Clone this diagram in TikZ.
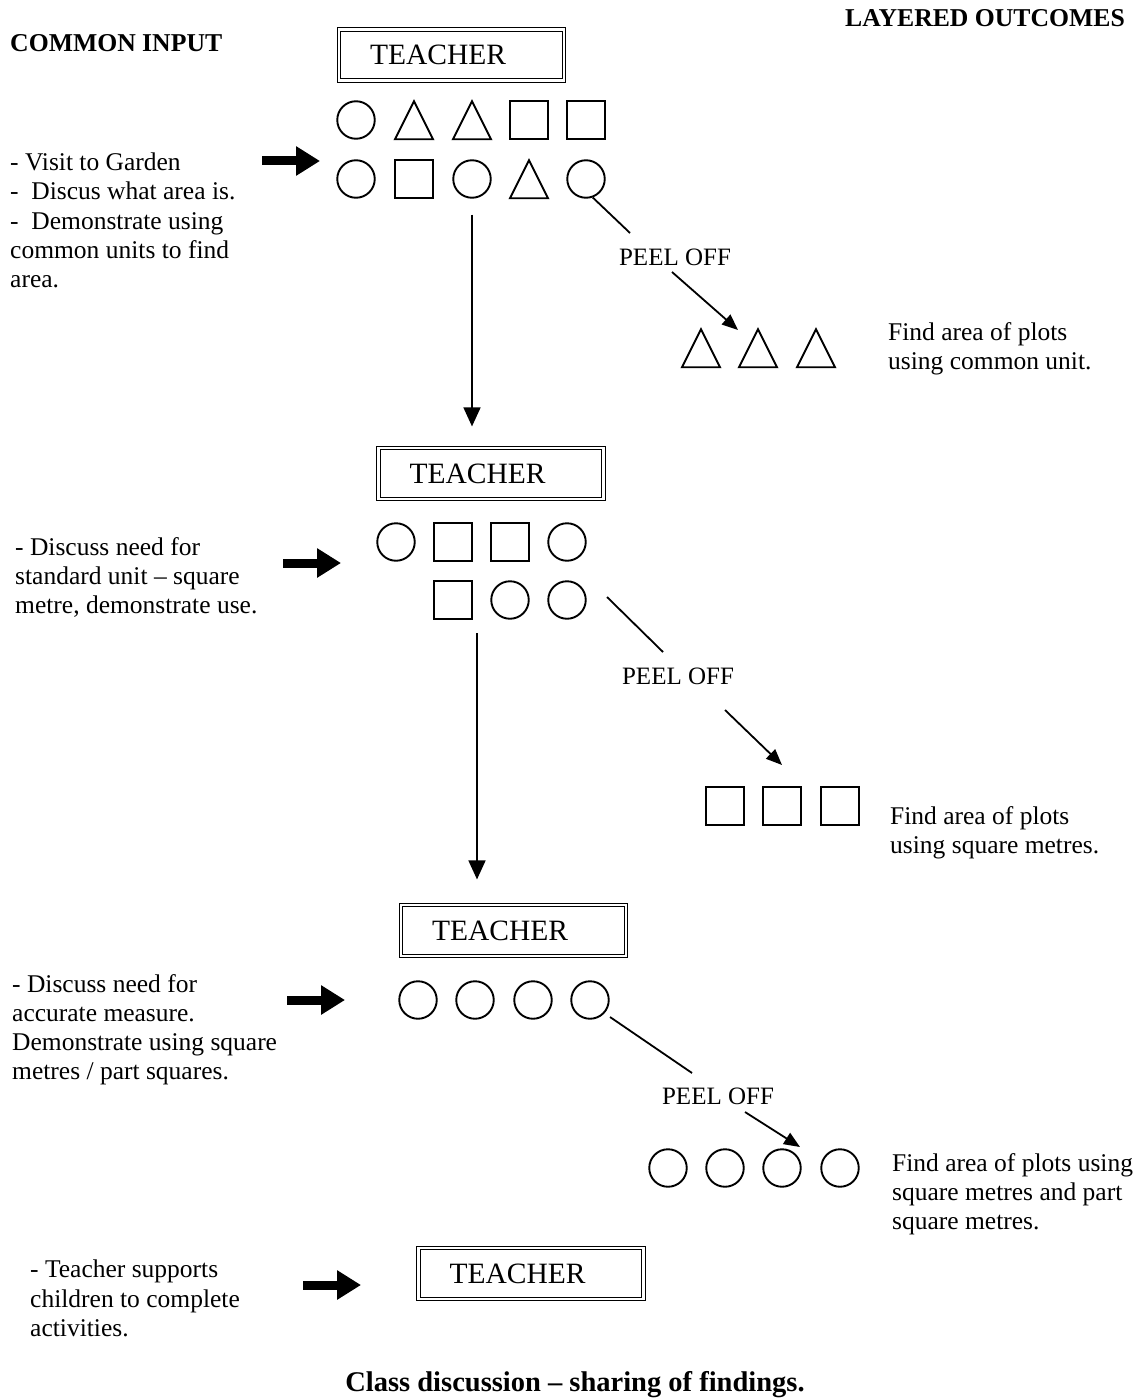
\documentclass[tikz,border=0pt]{standalone}
\usepackage{fontspec}
\setmainfont{Liberation Serif}
\usetikzlibrary{positioning,arrows.meta,shapes.geometric}

\tikzset{
  txt/.style={font=\fontsize{25.5}{29.1}\selectfont, align=left, inner sep=0pt, anchor=north west},
  hdr/.style={font=\bfseries\fontsize{25.7}{29}\selectfont, inner sep=0pt, anchor=west},
  peeltxt/.style={font=\fontsize{25}{29}\selectfont, inner sep=0pt},
  teacher/.style={draw, double, double distance=2.5pt, line width=1.2pt, minimum height=51pt,
    text width=163pt, inner xsep=31pt, align=left, font=\fontsize{29.5}{32}\selectfont},
  circ/.style={circle, draw, line width=1.9pt, minimum size=37.5pt, inner sep=0pt},
  sq/.style={rectangle, draw, line width=1.9pt, minimum size=37.5pt, inner sep=0pt},
  tri/.style={isosceles triangle, isosceles triangle stretches, shape border rotate=90, draw,
    line width=1.9pt, minimum width=38pt, minimum height=38pt, inner sep=0pt, yshift=-7.5pt},
  bigarrow/.style={line width=9pt, -{Triangle[length=24pt,width=28pt]}},
  peel/.style={line width=1.8pt},
  peelarrow/.style={line width=1.8pt, -{Triangle[length=16pt,width=13pt]}},
  down/.style={line width=1.6pt, -{Triangle[length=19pt,width=17pt]}}
}

\begin{document}
\begin{tikzpicture}[x=1pt,y=-1pt]
\useasboundingbox (0,0) rectangle (1138,1399);

% headings
\node[hdr] (ci) at (10,43) {COMMON INPUT};
\node[hdr] (lo) at (845,18) {LAYERED OUTCOMES};

% first group
\node[teacher] (t1) at (451.5,55) {TEACHER};
\node[circ] (a1) at (356,120) {};
\node[tri] (a2) at (414,120) {};
\node[tri] (a3) at (472,120) {};
\node[sq] (a4) at (529,120) {};
\node[sq] (a5) at (586,120) {};
\node[circ] (b1) at (356,179) {};
\node[sq] (b2) at (414,179) {};
\node[circ] (b3) at (472,179) {};
\node[tri] (b4) at (529,179) {};
\node[circ] (b5) at (586,179) {};

\node[txt] (in1) at (10,153) {- Visit to Garden\\- \ Discus what area is.\\- \ Demonstrate using\\common units to find\\area.};
\coordinate (in1a) at (262,161);
\coordinate (in1b) at (320,161);
\draw[bigarrow] (in1a) -- (in1b);

\coordinate (pl1a) at (630,233);
\draw[peel] (b5.-70) -- (pl1a);
\node[peeltxt] (peel1) at (675,257) {PEEL OFF};
\coordinate (pl1b) at (672,272);
\coordinate (pl1c) at (738,330);
\draw[peelarrow] (pl1b) -- (pl1c);

\node[tri] (o1) at (701,348) {};
\node[tri] (o2) at (758,348) {};
\node[tri] (o3) at (816,348) {};
\node[txt] (out1) at (888,322) {Find area of plots\\using common unit.};

% second group
\node[teacher] (t2) at (491,473.5) {TEACHER};
\draw[down, shorten <=16pt] (b3.south) -- ([yshift=21pt]b3.south |- t2.north);
\node[circ] (c1) at (396,542) {};
\node[sq] (c2) at (453,542) {};
\node[sq] (c3) at (510,542) {};
\node[circ] (c4) at (567,542) {};
\node[sq] (d1) at (453,600) {};
\node[circ] (d2) at (510,600) {};
\node[circ] (d3) at (567,600) {};

\node[txt] (in2) at (15,537) {- Discuss need for\\standard unit -- square\\metre, demonstrate use.};
\coordinate (in2a) at (283,563);
\coordinate (in2b) at (341,563);
\draw[bigarrow] (in2a) -- (in2b);

\coordinate (pl2a) at (607,597);
\coordinate (pl2b) at (663,652);
\draw[peel] (pl2a) -- (pl2b);
\node[peeltxt] (peel2) at (678,676) {PEEL OFF};
\coordinate (pl2c) at (725,710);
\coordinate (pl2d) at (782,765);
\draw[peelarrow] (pl2c) -- (pl2d);

\node[sq] (q1) at (725,806) {};
\node[sq] (q2) at (782,806) {};
\node[sq] (q3) at (840,806) {};
\node[txt] (out2) at (890,806) {Find area of plots\\using square metres.};

% third group
\node[teacher] (t3) at (513.5,930.5) {TEACHER};
\coordinate (v2a) at (477,633);
\draw[down] (v2a) -- ([yshift=25pt]v2a |- t3.north);
\node[circ] (e1) at (418,1000) {};
\node[circ] (e2) at (475,1000) {};
\node[circ] (e3) at (533,1000) {};
\node[circ] (e4) at (590,1000) {};

\node[txt] (in3) at (12,974) {- Discuss need for\\accurate measure.\\Demonstrate using square\\metres / part squares.};
\coordinate (in3a) at (287,1000);
\coordinate (in3b) at (345,1000);
\draw[bigarrow] (in3a) -- (in3b);

\coordinate (pl3a) at (610,1017);
\coordinate (pl3b) at (692,1073);
\draw[peel] (pl3a) -- (pl3b);
\node[peeltxt] (peel3) at (718,1096) {PEEL OFF};
\coordinate (pl3c) at (745,1112);
\coordinate (pl3d) at (800,1147);
\draw[peelarrow] (pl3c) -- (pl3d);

\node[circ] (r1) at (668,1168) {};
\node[circ] (r2) at (725,1168) {};
\node[circ] (r3) at (782,1168) {};
\node[circ] (r4) at (840,1168) {};
\node[txt] (out3) at (892,1153) {Find area of plots using\\square metres and part\\square metres.};

% last group
\node[teacher] (t4) at (531,1273.5) {TEACHER};
\node[txt] (in4) at (30,1260) {- Teacher supports\\children to complete\\activities.};
\coordinate (in4a) at (303,1285);
\coordinate (in4b) at (361,1285);
\draw[bigarrow] (in4a) -- (in4b);

\node[font=\bfseries\fontsize{28.5}{32}\selectfont, inner sep=0pt] (fin) at (575,1385) {Class discussion -- sharing of findings.};

\end{tikzpicture}
\end{document}
